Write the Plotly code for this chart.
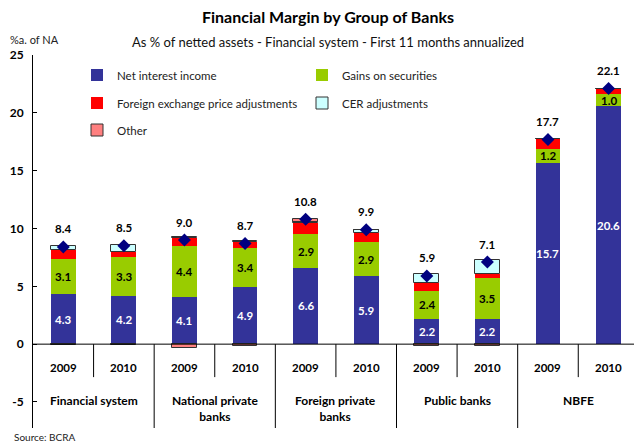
import plotly.graph_objects as go

# Financial margin components, % of netted assets (first 11 months annualized)
groups = ["Financial system", "National private<br>banks", "Foreign private<br>banks",
          "Public banks", "NBFE"]
years = ["2009", "2010"] * 5

net_interest = [4.3, 4.2, 4.1, 4.9, 6.6, 5.9, 2.2, 2.2, 15.7, 20.6]
gains_securities = [3.1, 3.3, 4.4, 3.4, 2.9, 2.9, 2.4, 3.5, 1.2, 1.0]
fx_adjustments = [0.75, 0.5, 0.7, 0.5, 1.0, 0.8, 0.7, 0.35, 0.8, 0.5]
cer_adjustments = [0.35, 0.6, 0.1, 0.1, 0.1, 0.3, 0.8, 1.25, 0.0, 0.0]
other = [-0.1, -0.1, -0.3, -0.2, 0.2, 0.0, -0.2, -0.2, 0.0, 0.0]
totals = [8.4, 8.5, 9.0, 8.7, 10.8, 9.9, 5.9, 7.1, 17.7, 22.1]

y_ticks = [-5, 0, 5, 10, 15, 20, 25]
y_tick_text = ["-5", "0", "5", "10", "15", "20", "25"]

FONT = "Lato"
W, H = 634, 447
ML, MR, MT, MB = 33, 0, 55, 19
PW, PH = W - ML - MR, H - MT - MB

def px_x(p):
    return (p - ML) / PW

def px_y(p):
    return (H - MB - p) / PH

xs = list(range(len(years)))

fig = go.Figure()

series = [
    ("Net interest income", net_interest, "#333399", None, "legend"),
    ("Gains on securities", gains_securities, "#99CC00", None, "legend"),
    ("Foreign exchange price adjustments", fx_adjustments, "#FF0000", None, "legend2"),
    ("CER adjustments", cer_adjustments, "#CCFFFF", "#333333", "legend2"),
    ("Other", other, "#FF8080", "#333333", "legend3"),
]
for name, vals, color, border, lg in series:
    fig.add_trace(go.Bar(
        x=xs, y=vals, name=name, width=0.41,
        marker=dict(color=color,
                    line=dict(color=border if border else color, width=1 if border else 0)),
        legend=lg, hoverinfo="name+y",
    ))

fig.add_trace(go.Scatter(
    x=xs, y=totals, mode="markers", showlegend=False,
    marker=dict(symbol="diamond", size=10, color="#000080"),
    hoverinfo="y",
))

annotations = []
# Values inside the stacked bars and totals above them
for i in xs:
    annotations.append(dict(x=i, y=net_interest[i] / 2, xref="x", yref="y",
                            text=f"{net_interest[i]:.1f}", showarrow=False,
                            font=dict(family=FONT, size=11.5, color="white", weight="bold")))
    annotations.append(dict(x=i, y=net_interest[i] + gains_securities[i] / 2, xref="x", yref="y",
                            text=f"{gains_securities[i]:.1f}", showarrow=False,
                            font=dict(family=FONT, size=11.5, color="black", weight="bold")))
    annotations.append(dict(x=i, y=totals[i], xref="x", yref="y", yshift=18,
                            text=f"{totals[i]:.1f}", showarrow=False,
                            font=dict(family=FONT, size=11.5, color="black", weight="bold")))
    annotations.append(dict(x=i, y=-2.0, xref="x", yref="y", text=years[i], showarrow=False,
                            font=dict(family=FONT, size=11.5, color="black", weight="bold")))

for g, name in enumerate(groups):
    annotations.append(dict(x=2 * g + 0.5, y=-4.8, xref="x", yref="y", yanchor="top",
                            yshift=9, text=name, showarrow=False,
                            font=dict(family=FONT, size=12, color="black", weight="bold")))

shapes = []
for k in range(1, len(years)):
    bottom = -7.25 if k % 2 == 0 else -2.85
    shapes.append(dict(type="line", xref="x", yref="y", x0=k - 0.5, x1=k - 0.5,
                       y0=0, y1=bottom, line=dict(color="black", width=1)))
shapes.append(dict(type="line", xref="paper", yref="y", x0=0, x1=1, y0=0, y1=0,
                   line=dict(color="black", width=1)))

annotations += [
    dict(x=px_x(8), y=px_y(40), xref="paper", yref="paper", xanchor="left", yanchor="middle",
         text="%a. of NA", showarrow=False, font=dict(family=FONT, size=11, color="#222")),
    dict(x=px_x(328), y=px_y(42), xref="paper", yref="paper", xanchor="center", yanchor="middle",
         text="As % of netted assets - Financial system - First 11 months annualized",
         showarrow=False, font=dict(family=FONT, size=13, color="#111")),
    dict(x=px_x(12), y=px_y(437), xref="paper", yref="paper", xanchor="left", yanchor="middle",
         text="Source: BCRA", showarrow=False, font=dict(family=FONT, size=10, color="#222")),
]

legend_common = dict(orientation="h", bgcolor="rgba(0,0,0,0)", entrywidth=180,
                     font=dict(family=FONT, size=11.5, color="#222"),
                     xanchor="left", yanchor="middle", itemclick=False)

fig.update_layout(
    width=W, height=H,
    margin=dict(l=ML, r=MR, t=MT, b=MB),
    paper_bgcolor="white", plot_bgcolor="white",
    barmode="relative", bargap=0,
    title=dict(text="<b>Financial Margin by Group of Banks</b>", x=328 / W, xanchor="center",
               y=1 - 17 / H, yanchor="middle",
               font=dict(family=FONT, size=16, color="black")),
    xaxis=dict(range=[-0.5, 9.42], showticklabels=False, showgrid=False, zeroline=False,
               ticks="", fixedrange=True),
    yaxis=dict(range=[-7.25, 25], tickmode="array", tickvals=y_ticks, ticktext=y_tick_text,
               showgrid=False, zeroline=False, showline=True,
               linecolor="black", linewidth=1, ticks="inside", ticklen=4, tickcolor="black",
               tickfont=dict(family=FONT, size=12, color="black", weight="bold"),
               ticklabelstandoff=6, fixedrange=True),
    legend=dict(x=px_x(77), y=px_y(75), **legend_common),
    legend2=dict(x=px_x(77), y=px_y(103), **legend_common),
    legend3=dict(x=px_x(77), y=px_y(130), **legend_common),
    annotations=annotations,
    shapes=shapes,
    showlegend=True,
)

fig.write_html("out.html")
